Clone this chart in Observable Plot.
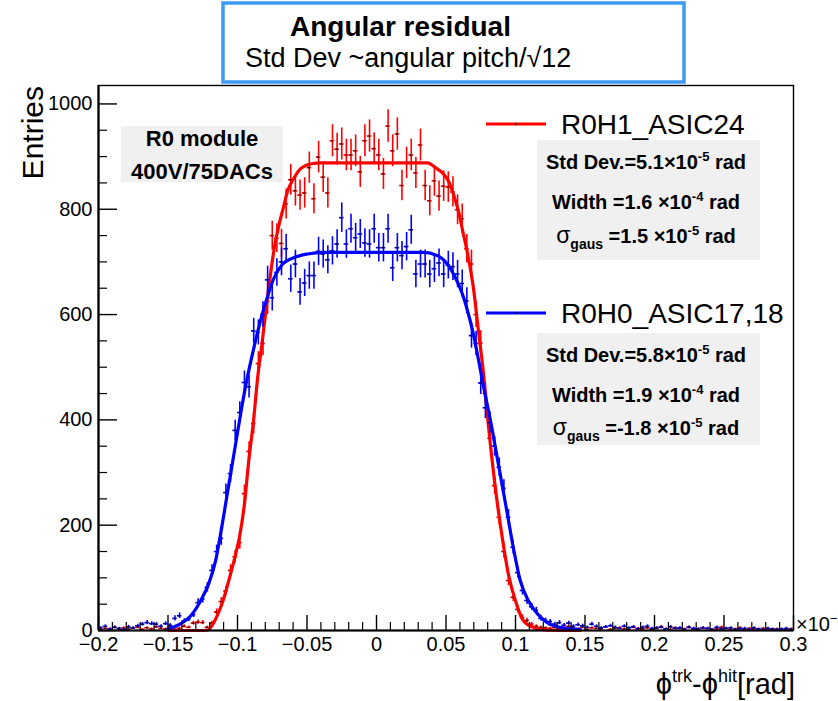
<!DOCTYPE html>
<html>
<head>
<meta charset="utf-8">
<script src="https://cdn.jsdelivr.net/npm/d3@7"></script>
<script src="https://cdn.jsdelivr.net/npm/@observablehq/plot@0.6"></script>
<style>
  html, body { margin: 0; padding: 0; background: white; }
  #chart { width: 838px; height: 701px; }
</style>
</head>
<body>
<div id="chart"></div>
<script>
// ---------------- data ----------------
const histMin = -0.2;          // x10^-3 rad
const histMax = 0.3;
const nBins = 150;

// R0H1_ASIC24 (red) bin contents
const redCounts = [
  2, 4, 3, 6, 2, 5, 3, 4, 6, 2, 5, 3, 7, 4, 3, 6, 5, 4, 8, 6,
  14, 16, 15, 6, 14, 35, 55, 75, 114, 140,
  167, 260, 340, 393, 507, 545, 625, 750, 745, 735,
  810, 856, 835, 827, 831, 879, 820, 899, 861, 831,
  930, 914, 924, 903, 903, 911, 871, 930, 939, 915,
  903, 867, 958, 911, 943, 845, 888, 903, 869, 922,
  845, 816, 854, 825, 844, 842, 833, 799, 782, 725,
  696, 600, 546, 450, 365, 275, 215, 150, 95, 63,
  40, 25, 19, 12, 8, 6,
  5, 4, 6, 3, 5, 8, 4, 3, 6, 2,
  5, 4, 3, 7, 2, 4, 5, 3, 2, 6,
  4, 3, 5, 2, 4, 7, 3, 2, 5, 4,
  3, 6, 2, 3, 5, 4, 2, 3, 6, 4,
  2, 3, 5, 2, 4, 3, 2, 4, 3, 2,
  3, 1, 2, 3
];

// R0H0_ASIC17,18 (blue) bin contents
const blueCounts = [
  5, 8, 3, 6, 4, 2, 7, 5, 9,
  12, 15, 13, 12, 8, 13, 10, 23, 28, 18, 22, 30,
  53, 60, 82, 114, 150, 175, 262, 298, 380,
  414, 471, 463, 569, 566, 600, 666, 632, 680, 700,
  725, 668, 696, 643, 660, 674, 674, 720, 715, 704,
  721, 734, 784, 734, 763, 746, 753, 736, 734, 763,
  727, 727, 763, 689, 727, 712, 729, 761, 677, 696,
  696, 677, 687, 698, 677, 694, 691, 677, 659, 626,
  560, 545, 470, 423, 395, 350, 310, 270, 215, 158,
  110, 76, 57, 45, 38, 23,
  19, 17, 12, 15, 10, 14, 8, 11, 9, 6,
  12, 8, 5, 7, 9, 6, 4, 8, 5, 7,
  3, 6, 8, 4, 5, 6, 3, 7, 4, 5,
  2, 6, 4, 3, 5, 4, 2, 6, 3, 4,
  5, 2, 3, 4, 2, 5, 3, 2, 4, 3,
  2, 3, 4, 2
];

// fit curves (x, entries)
const redFitX = [-0.1494, -0.1264, -0.1214, -0.1171, -0.1135, -0.1106, -0.1078, -0.1042, -0.1013, -0.0984,
  -0.0948, -0.0920, -0.0884, -0.0855, -0.0826, -0.0790, -0.0761, -0.0733, -0.0697, -0.0668,
  -0.0639, -0.0596, -0.0546, -0.0474, -0.0402, 0.0366, 0.0424, 0.0481, 0.0517, 0.0553,
  0.0589, 0.0625, 0.0661, 0.0697, 0.0733, 0.0769, 0.0805, 0.0855, 0.0905, 0.0948,
  0.0999, 0.1056, 0.1128, 0.1214, 0.1466];
const redFitY = [0, 0, 1, 15, 35, 55, 80, 115, 145, 180,
  245, 320, 400, 480, 540, 620, 680, 730, 775, 805,
  835, 858, 877, 886, 888, 888, 879, 867, 854, 829,
  797, 753, 708, 651, 570, 490, 390, 271, 176, 108,
  57, 19, 6, 1, 0];

const blueFitX = [-0.1501, -0.1408, -0.1336, -0.1264, -0.1207, -0.1157, -0.1121, -0.1085, -0.1049, -0.1013,
  -0.0977, -0.0941, -0.0884, -0.0833, -0.0783, -0.0740, -0.0675, -0.0596, -0.0496, -0.0381,
  0.0338, 0.0438, 0.0510, 0.0568, 0.0618, 0.0661, 0.0697, 0.0733, 0.0769, 0.0819,
  0.0876, 0.0941, 0.0984, 0.1034, 0.1092, 0.1157, 0.1228, 0.1322, 0.1466];
const blueFitY = [3, 13, 28, 57, 89, 133, 184, 241, 298, 355,
  412, 465, 535, 590, 635, 668, 696, 708, 715, 718,
  718, 712, 696, 670, 639, 601, 563, 515, 465, 400,
  317, 222, 158, 95, 57, 32, 15, 6, 2];

// axis ticks and labels
const xTicks = [-0.2, -0.15, -0.1, -0.05, 0, 0.05, 0.1, 0.15, 0.2, 0.25, 0.3];
const xTickLabels = ["\u22120.2", "\u22120.15", "\u22120.1", "\u22120.05", "0", "0.05", "0.1", "0.15", "0.2", "0.25", "0.3"];
const xMinorTicks = d3.range(-20, 31).map(k => k / 100).filter(v => !xTicks.some(t => Math.abs(t - v) < 1e-9));
const yTicks = [0, 200, 400, 600, 800, 1000];
const yTickLabels = ["0", "200", "400", "600", "800", "1000"];
const yMinorTicks = d3.range(0, 1001, 50).filter(v => v % 200 !== 0);

// texts
const titleLines = ["Angular residual", "Std Dev ~angular pitch/\u221a12"];
const seriesNames = ["R0H1_ASIC24", "R0H0_ASIC17,18"];
const moduleLines = ["R0 module", "400V/75DACs"];
const stdDevs = ["5.1", "5.8"];
const widths = ["1.6", "1.9"];
const sigmas = ["1.5", "-1.8"];

// ---------------- build ----------------
const binW = (histMax - histMin) / nBins;
const toBins = counts => counts.map((c, i) => ({x: histMin + (i + 0.5) * binW, y: c, e: Math.sqrt(c)}));
const redBins = toBins(redCounts).filter(d => d.y > 0);
const blueBins = toBins(blueCounts).filter(d => d.y > 0);
const redFit = redFitX.map((x, i) => ({x, y: redFitY[i]}));
const blueFit = blueFitX.map((x, i) => ({x, y: blueFitY[i]}));

const RED = "#ff0000", BLUE = "#0000ff";
const W = 838, H = 701, ML = 98, MR = 45, MT = 85, MB = 71;
const innerW = W - ML - MR, innerH = H - MT - MB;
const FONT = "'Liberation Sans', Arial, Helvetica, sans-serif";

function errMarks(bins, color) {
  return [
    Plot.ruleX(bins, {x: "x", y1: d => d.y - d.e, y2: d => d.y + d.e, stroke: color, strokeWidth: 1.6}),
    Plot.ruleY(bins, {y: "y", x1: d => d.x - binW / 2, x2: d => d.x + binW / 2, stroke: color, strokeWidth: 1.6}),
    Plot.ruleY(bins, {y: "y", x1: d => d.x - binW * 0.18, x2: d => d.x + binW * 0.18, stroke: "black", strokeWidth: 1.2})
  ];
}

const svg = Plot.plot({
  width: W, height: H,
  marginLeft: ML, marginRight: MR, marginTop: MT, marginBottom: MB,
  style: {fontFamily: FONT, fontSize: "20px", background: "white", color: "black", overflow: "visible"},
  x: {domain: [histMin, histMax]},
  y: {domain: [0, 1035]},
  marks: [
    ...errMarks(redBins, RED),
    Plot.line(redFit, {x: "x", y: "y", stroke: RED, strokeWidth: 3.2, curve: "monotone-x"}),
    ...errMarks(blueBins, BLUE),
    Plot.line(blueFit, {x: "x", y: "y", stroke: BLUE, strokeWidth: 3.2, curve: "monotone-x"}),
    Plot.ruleX(xTicks, {insetTop: innerH - 15, stroke: "black", strokeWidth: 1.4}),
    Plot.ruleX(xMinorTicks, {insetTop: innerH - 8, stroke: "black", strokeWidth: 1.2}),
    Plot.ruleY(yTicks, {insetRight: innerW - 19, stroke: "black", strokeWidth: 1.4}),
    Plot.ruleY(yMinorTicks, {insetRight: innerW - 9, stroke: "black", strokeWidth: 1.2}),
    Plot.frame({stroke: "black", strokeWidth: 1.4}),
    Plot.ruleX([histMin], {stroke: "black", strokeWidth: 2.2}),
    Plot.ruleY([0], {stroke: "black", strokeWidth: 2.2}),
    Plot.axisX({ticks: xTicks, tickSize: 0, tickPadding: 6, label: null,
      tickFormat: d => xTickLabels[xTicks.findIndex(t => Math.abs(t - d) < 1e-9)]}),
    Plot.axisY({ticks: yTicks, tickSize: 0, tickPadding: 6, label: null,
      tickFormat: d => yTickLabels[yTicks.indexOf(d)]})
  ]
});

const s = d3.select(svg);
const g = s.append("g").attr("font-family", FONT).attr("fill", "black").attr("text-anchor", "start");

// title box
g.append("rect").attr("x", 223).attr("y", 3).attr("width", 461).attr("height", 79)
  .attr("fill", "white").attr("stroke", "#3d9cf2").attr("stroke-width", 3.5);
g.append("text").attr("x", 290).attr("y", 36).attr("text-anchor", "start").attr("font-size", 28).attr("font-weight", "bold").text(titleLines[0]);
g.append("text").attr("x", 245).attr("y", 67).attr("text-anchor", "start").attr("font-size", 27).text(titleLines[1]);

// axis titles
g.append("text").attr("transform", "translate(43,86) rotate(-90)").attr("text-anchor", "end")
  .attr("font-size", 30).text("Entries");
const xt = g.append("text").attr("x", 795).attr("y", 694).attr("text-anchor", "end").attr("font-size", 29);
xt.append("tspan").text("\u03d5");
xt.append("tspan").attr("dy", -12).attr("font-size", 18).text("trk");
xt.append("tspan").attr("dy", 12).text("-\u03d5");
xt.append("tspan").attr("dy", -12).attr("font-size", 18).text("hit");
xt.append("tspan").attr("dy", 12).text("[rad]");
const ex = g.append("text").attr("x", 796).attr("y", 631).attr("text-anchor", "start").attr("font-size", 20);
ex.append("tspan").text("\u00d710");
ex.append("tspan").attr("dy", -8).attr("font-size", 13).text("\u22123");

// module box
g.append("rect").attr("x", 121).attr("y", 126).attr("width", 162).attr("height", 56).attr("fill", "#f0f0f0");
g.append("text").attr("x", 202).attr("y", 146).attr("text-anchor", "middle").attr("font-size", 22).attr("font-weight", "bold").text(moduleLines[0]);
g.append("text").attr("x", 202).attr("y", 179).attr("text-anchor", "middle").attr("font-size", 22).attr("font-weight", "bold").text(moduleLines[1]);

// legends + stat boxes
const legendY = [124, 313];
const boxY = [140, 333], boxH = [120, 112];
const lineBase = [[169, 209, 243], [362, 402, 435]];
const colors = [RED, BLUE];
[0, 1].forEach(k => {
  g.append("line").attr("x1", 486).attr("x2", 546).attr("y1", legendY[k]).attr("y2", legendY[k])
    .attr("stroke", colors[k]).attr("stroke-width", 3);
  g.append("line").attr("x1", 515).attr("x2", 517).attr("y1", legendY[k]).attr("y2", legendY[k])
    .attr("stroke", "black").attr("stroke-width", 1.2);
  g.append("text").attr("x", 561).attr("y", legendY[k] + 10).attr("text-anchor", "start").attr("font-size", 28).text(seriesNames[k]);
  g.append("rect").attr("x", 537).attr("y", boxY[k]).attr("width", 223).attr("height", boxH[k]).attr("fill", "#f0f0f0");
  const cx = 646;
  const t1 = g.append("text").attr("x", cx).attr("y", lineBase[k][0]).attr("text-anchor", "middle")
    .attr("font-size", 20).attr("font-weight", "bold");
  t1.append("tspan").text("Std Dev.=" + stdDevs[k] + "\u00d710");
  t1.append("tspan").attr("dy", -8).attr("font-size", 13).text("-5");
  t1.append("tspan").attr("dy", 8).text(" rad");
  const t2 = g.append("text").attr("x", cx).attr("y", lineBase[k][1]).attr("text-anchor", "middle")
    .attr("font-size", 20).attr("font-weight", "bold");
  t2.append("tspan").text("Width =" + widths[k] + " \u00d710");
  t2.append("tspan").attr("dy", -8).attr("font-size", 13).text("-4");
  t2.append("tspan").attr("dy", 8).text(" rad");
  const t3 = g.append("text").attr("x", cx).attr("y", lineBase[k][2]).attr("text-anchor", "middle")
    .attr("font-size", 20).attr("font-weight", "bold");
  t3.append("tspan").attr("font-weight", "normal").attr("font-size", 23).text("\u03c3");
  t3.append("tspan").attr("dy", 6).attr("font-size", 14).text("gaus");
  t3.append("tspan").attr("dy", -6).text(" =" + sigmas[k] + " \u00d710");
  t3.append("tspan").attr("dy", -8).attr("font-size", 13).text("-5");
  t3.append("tspan").attr("dy", 8).text(" rad");
});

document.getElementById("chart").appendChild(svg);
</script>
</body>
</html>
